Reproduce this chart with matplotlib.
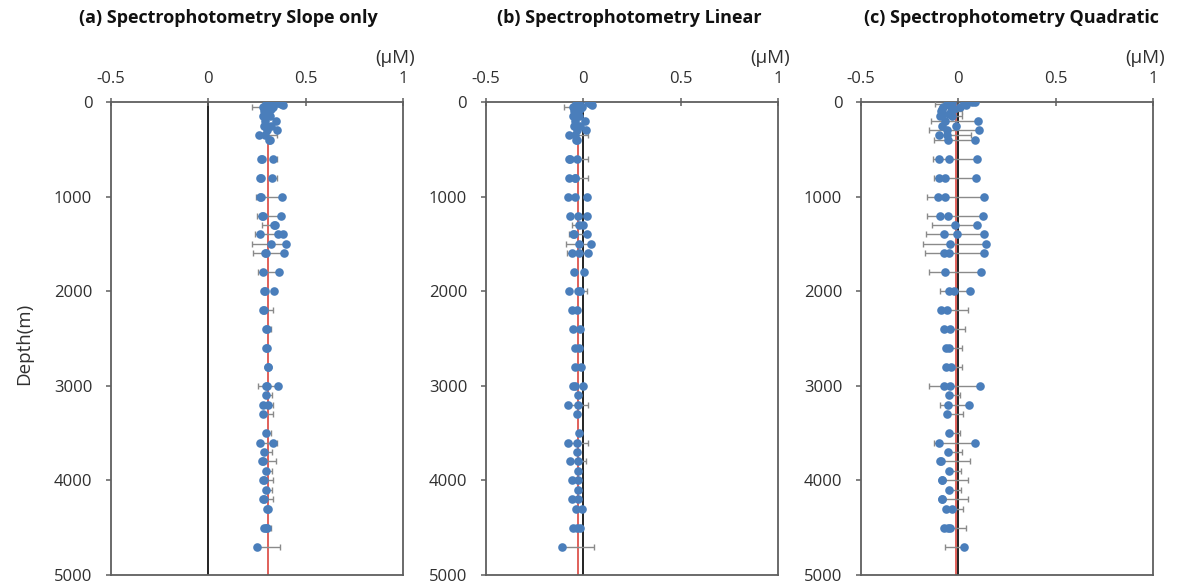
import matplotlib
matplotlib.use("Agg")
import matplotlib.pyplot as plt

plt.rcParams["font.family"] = ["Open Sans", "DejaVu Sans"]

# Sampling depths (m); each depth holds one or more replicate measurements
depths = [5, 10, 20, 30, 50, 75, 100, 125, 150, 200, 250, 300, 350, 400,
          600, 800, 1000, 1200, 1300, 1400, 1500, 1600, 1800, 2000, 2200, 2400,
          2600, 2800, 3000, 3100, 3200, 3300, 3500, 3600, 3700, 3800, 3900,
          4000, 4100, 4200, 4300, 4500, 4700]

# Concentrations (uM) from the three calibration methods
slope_only = [
    [0.300, 0.330, 0.345], [0.310, 0.360], [0.295, 0.375], [0.300, 0.385],
    [0.280, 0.330], [0.290, 0.320], [0.285, 0.310], [0.290, 0.305],
    [0.280, 0.315], [0.290, 0.348], [0.285, 0.320], [0.300, 0.354],
    [0.262, 0.290], [0.310, 0.318],
    [0.271, 0.274, 0.334], [0.267, 0.272, 0.327], [0.265, 0.270, 0.380],
    [0.277, 0.282, 0.373], [0.338, 0.342], [0.265, 0.356, 0.382],
    [0.320, 0.399], [0.293, 0.297, 0.387], [0.283, 0.363],
    [0.286, 0.290, 0.337], [0.283, 0.287], [0.296, 0.299],
    [0.297, 0.303], [0.305, 0.308], [0.296, 0.299, 0.360], [0.296],
    [0.283, 0.308], [0.283], [0.295], [0.265, 0.330], [0.288],
    [0.274, 0.280], [0.295], [0.283, 0.287], [0.295], [0.283, 0.286],
    [0.302, 0.308], [0.288, 0.296, 0.300], [0.252],
]
linear = [
    [-0.030, 0.025, 0.040], [-0.020, 0.030], [-0.040, 0.040], [-0.030, 0.043],
    [-0.055, -0.005], [-0.045, -0.015], [-0.050, -0.025], [-0.045, -0.030],
    [-0.055, -0.020], [-0.045, 0.010], [-0.050, -0.015], [-0.035, 0.012],
    [-0.072, -0.045], [-0.038, -0.030],
    [-0.072, -0.070, -0.031], [-0.072, -0.043, -0.041], [-0.077, -0.043, 0.017],
    [-0.068, -0.029, 0.017], [-0.021, 0.000], [-0.055, -0.050, 0.017],
    [-0.021, 0.038], [-0.060, -0.021, 0.026], [-0.048, 0.003],
    [-0.072, -0.026, -0.017], [-0.060, -0.034], [-0.051, -0.017],
    [-0.043, -0.021], [-0.043, -0.014], [-0.051, -0.045, 0.000], [-0.026],
    [-0.077, -0.026], [-0.034], [-0.021], [-0.077, -0.031], [-0.031],
    [-0.068, -0.026], [-0.026], [-0.060, -0.026], [-0.026], [-0.057, -0.026],
    [-0.038, -0.009], [-0.051, -0.034, -0.017], [-0.108],
]
quadratic = [
    [-0.043, 0.070, 0.087], [-0.030, 0.030], [-0.060, 0.035], [-0.050, 0.040],
    [-0.080, 0.010], [-0.085, -0.020], [-0.090, -0.040], [-0.080, -0.050],
    [-0.095, -0.030], [-0.070, 0.099], [-0.085, -0.010], [-0.060, 0.108],
    [-0.101, -0.060], [-0.051, 0.086],
    [-0.101, -0.050, 0.094], [-0.101, -0.070, 0.091], [-0.103, -0.067, 0.130],
    [-0.096, -0.055, 0.125], [-0.017, 0.096], [-0.075, -0.007, 0.130],
    [-0.045, 0.142], [-0.075, -0.050, 0.134], [-0.070, 0.116],
    [-0.050, -0.021, 0.058], [-0.089, -0.058], [-0.075, -0.043],
    [-0.063, -0.050], [-0.063, -0.038], [-0.075, -0.041, 0.113], [-0.046],
    [-0.051, 0.057], [-0.060], [-0.046], [-0.101, 0.087], [-0.053],
    [-0.092, -0.090], [-0.048], [-0.086, -0.084], [-0.050], [-0.086, -0.084],
    [-0.063, -0.033], [-0.075, -0.055, -0.041], [0.031],
]

# One-sided error bars (uM): positive = plus side, negative = minus side, 0 = none
slope_only_err = [
    [0, 0, 0], [0, 0], [0, 0], [0, 0], [-0.057, 0], [0, 0], [0, 0], [0, 0],
    [0, 0], [0, 0], [0, 0], [0, 0], [0.090, 0], [0, 0],
    [0, 0, 0.017], [0, 0, 0.024], [0, 0, -0.135], [0, 0, -0.125], [0, -0.068],
    [0, 0, -0.142], [0, -0.176], [0, 0, -0.159], [0, -0.106], [0, 0, 0],
    [0.051, 0], [0.024, 0], [0, 0], [0, 0], [0, 0, -0.103], [0.029],
    [0.047, 0], [0.051], [0.025], [0.086, 0], [0.037], [0.074, 0], [0.030],
    [0.047, 0], [0.030], [0.047, 0], [0, 0], [0.032, 0, 0], [0.116],
]
linear_err = [
    [0, 0, 0], [0, 0], [0, 0], [0, 0], [-0.045, 0], [0, 0], [0, 0], [0, 0],
    [0, 0], [0, 0], [0, 0], [0, 0], [0.094, 0], [0, 0],
    [0, 0, 0.053], [0, 0.065, 0], [0, 0, 0], [0, 0, 0], [0, -0.057],
    [0, 0, -0.091], [0, -0.129], [0, 0, -0.108], [0, 0], [0, 0.043, 0],
    [0, 0], [0, 0], [0, 0], [0, 0], [0, 0, 0], [0],
    [0.103, 0], [0], [0], [0.103, 0], [0], [0.082, 0], [0],
    [0, 0], [0], [0, 0], [0, 0], [0, 0, 0], [0.163],
]
quadratic_err = [
    [0, 0, 0], [0, 0], [-0.060, 0], [0, 0], [0, 0], [0, 0], [0, 0.060], [0, 0],
    [0, 0.050], [0, -0.240], [0, 0], [0, -0.258], [0.166, 0], [0, -0.209],
    [0, 0, -0.222], [0, 0, -0.214], [0, 0, -0.291], [0, 0, -0.286], [0, -0.233],
    [0, 0, -0.296], [0, -0.322], [0, 0, -0.305], [0, -0.267], [0, 0, -0.152],
    [0.137, 0], [0.111, 0], [0.082, 0], [0.082, 0], [0, 0, -0.262], [0.056],
    [0, -0.149], [0.082], [0.056], [0, -0.210], [0.072], [0.152, 0], [0.062],
    [0.134, 0], [0.064], [0.134, 0], [0.089, 0], [0.114, 0, 0], [-0.098],
]

# Mean concentration of each profile (red reference line)
profile_means = [0.308, -0.026, -0.012]

titles = ["(a) Spectrophotometry Slope only",
          "(b) Spectrophotometry Linear",
          "(c) Spectrophotometry Quadratic"]
x_ticks = [-0.5, 0, 0.5, 1]
x_ticklabels = ["-0.5", "0", "0.5", "1"]
y_ticks = [0, 1000, 2000, 3000, 4000, 5000]
unit_label = "(\u03bcM)"
y_label = "Depth(m)"

W, H = 1181, 585
fig = plt.figure(figsize=(W / 100, H / 100), dpi=100)

panel_left = [111, 486, 861]
title_center = [228, 629, 1011]
marker_blue = "#4a7ebb"
frame_col = "#5f5f5f"
text_col = "#303030"

series = [(slope_only, slope_only_err), (linear, linear_err),
          (quadratic, quadratic_err)]

for i, (vals, errs) in enumerate(series):
    ax = fig.add_axes([panel_left[i] / W, 1 - 575 / H, 292 / W, 473 / H])
    ax.set_xlim(-0.5, 1)
    ax.set_ylim(5000, 0)

    ax.axvline(0, color="#111111", lw=1.3, zorder=1)
    ax.axvline(profile_means[i], color="#e0605a", lw=1.4, zorder=2)

    xs, ys = [], []
    ex, ey, elo, ehi = [], [], [], []
    for d, row, erow in zip(depths, vals, errs):
        for v, e in zip(row, erow):
            xs.append(v)
            ys.append(d)
            if e != 0:
                ex.append(v)
                ey.append(d)
                elo.append(-e if e < 0 else 0)
                ehi.append(e if e > 0 else 0)

    ax.errorbar(ex, ey, xerr=[elo, ehi], fmt="none", ecolor="#8a8a8a",
                elinewidth=1.0, capsize=2.4, capthick=1.0, zorder=3)
    ax.plot(xs, ys, "o", color=marker_blue, ms=6.2, mec=marker_blue, mew=0,
            zorder=4)

    for sp in ax.spines.values():
        sp.set_color(frame_col)
        sp.set_linewidth(1.3)

    ax.xaxis.tick_top()
    ax.set_xticks(x_ticks)
    ax.set_xticklabels(x_ticklabels)
    ax.tick_params(axis="x", direction="inout", length=6, width=1.1,
                   color=frame_col, pad=8, labelsize=12, labelcolor=text_col)
    ax.set_yticks(y_ticks)
    ax.tick_params(axis="y", direction="out", length=3.5, width=1.1,
                   color=frame_col, pad=10, labelsize=12, labelcolor=text_col)

    fig.text((panel_left[i] + 292 - 8) / W, 1 - 58 / H, unit_label,
             ha="center", va="center", fontsize=13.5, color=text_col)
    fig.text(title_center[i] / W, 1 - 18 / H, titles[i], ha="center",
             va="center", fontsize=13, fontweight="bold", color="#111111")

fig.text(24 / W, 1 - 344 / H, y_label, rotation=90, ha="center", va="center",
         fontsize=13.5, color=text_col)

fig.savefig("out.png", dpi=100)
